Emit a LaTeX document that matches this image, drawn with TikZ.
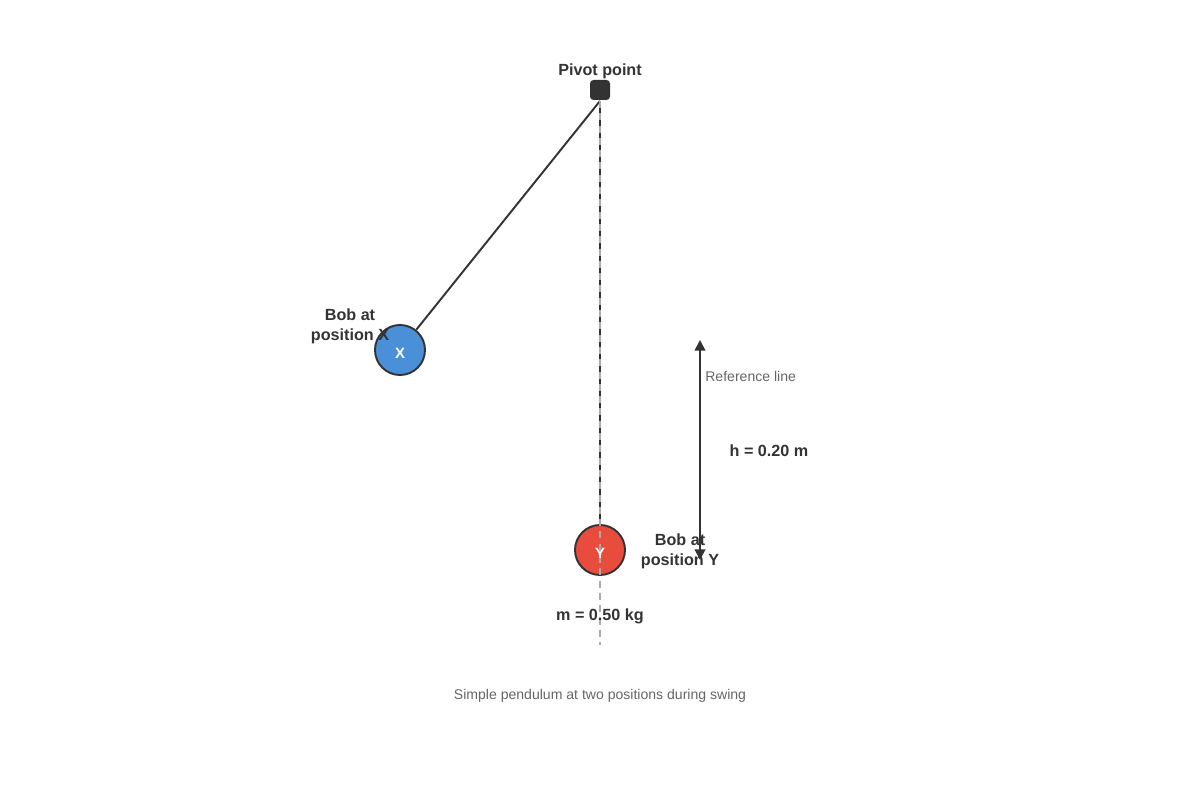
\documentclass[tikz,border=0pt]{standalone}
\usepackage{fontspec}
\setmainfont{Liberation Sans}
\usetikzlibrary{positioning,arrows.meta}
\definecolor{ink}{HTML}{333333}
\definecolor{soft}{HTML}{666666}
\definecolor{bobblue}{HTML}{4A90D9}
\definecolor{bobred}{HTML}{E74C3C}
\definecolor{refgray}{HTML}{AAAAAA}

\begin{document}
\begin{tikzpicture}[x=0.02cm,y=-0.02cm,line width=1.1pt,
                    >={Triangle[length=6pt,width=6pt]}]
  \tikzstyle{bob}=[circle,draw=ink,line width=1.1pt,minimum size=50*0.02cm,
                   inner sep=0pt,text=white,font=\fontsize{8.5}{10}\selectfont\bfseries]
  \tikzstyle{lbl}=[text=ink,font=\fontsize{9.2}{11.4}\selectfont\bfseries,align=center]
  \tikzstyle{note}=[text=soft,font=\fontsize{8}{10}\selectfont]

  \useasboundingbox (0,0) rectangle (1200,800);

  \node[fill=ink,rounded corners=2pt,minimum size=20*0.02cm,inner sep=0pt] (P) at (600,90) {};
  \node[lbl]           (Pl) at (600,71.5)  {Pivot point};
  \node[bob,fill=bobblue] (X) at (400,350) {};
  \node[text=white,font=\fontsize{8.5}{10}\selectfont\bfseries] at (400,353) {X};
  \node[bob,fill=bobred]  (Y) at (600,550) {};
  \coordinate (B) at (600,645);

  \draw[ink] (P.south) -- (X);
  \draw[ink] (P.south) -- (Y.north);
  \draw[refgray,line width=0.8pt,dash pattern=on 4pt off 3pt] (P.south) -- (B);
  \node[text=white,font=\fontsize{8.5}{10}\selectfont\bfseries] at (600,553) {Y};

  \node[lbl]           (Xl) at (350,326.5) {Bob at\\position X};
  \node[lbl]           (Yl) at (680,551.5) {Bob at\\position Y};
  \node[lbl]           (m)  at (600,616) {m = 0.50 kg};

  \coordinate (Ht) at (700,340);
  \coordinate (Hb) at (700,560);
  \draw[ink,<->] (Ht) -- (Hb);
  \node[note,anchor=west] (R) at (698.5,376) {Reference line};
  \node[lbl]           (h)  at (769,451) {h = 0.20 m};

  \node[note]          (cap) at (600,696) {Simple pendulum at two positions during swing};
\end{tikzpicture}
\end{document}
